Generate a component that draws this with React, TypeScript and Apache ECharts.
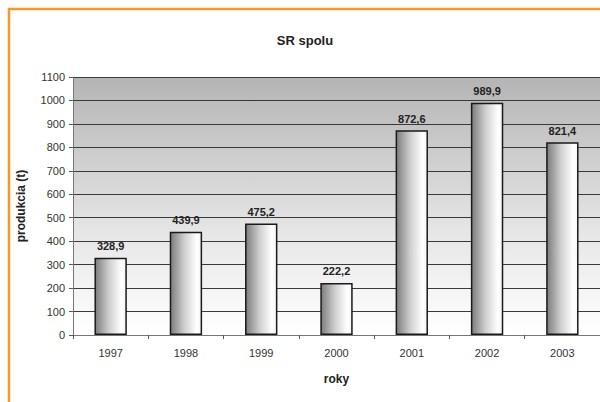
import React, { useEffect, useRef } from "react";
import * as echarts from "echarts";

const categories = ["1997", "1998", "1999", "2000", "2001", "2002", "2003"];
const values = [328.9, 439.9, 475.2, 222.2, 872.6, 989.9, 821.4];
const titleText = "SR spolu";
const yName = "produkcia (t)";
const xName = "roky";

export default function App() {
  const ref = useRef<HTMLDivElement>(null);
  useEffect(() => {
    if (!ref.current) return;
    const chart = echarts.init(ref.current, null, { renderer: "svg" });
    const font = "Arial, 'Liberation Sans', sans-serif";
    chart.setOption({
      animation: false,
      backgroundColor: "#ffffff",
      title: {
        text: titleText,
        left: 300,
        textAlign: "center",
        top: 29,
        textStyle: { fontSize: 13, fontWeight: "bold", color: "#222", fontFamily: font },
      },
      graphic: [
        { type: "line", shape: { x1: 8, y1: 9, x2: 600, y2: 9 }, style: { stroke: "#f5962e", lineWidth: 2.5 } },
        { type: "line", shape: { x1: 9, y1: 8, x2: 9, y2: 402 }, style: { stroke: "#f5962e", lineWidth: 2.5 } },
      ],
      grid: {
        left: 73,
        top: 77,
        width: 530,
        height: 258,
        show: true,
        borderWidth: 0,
        backgroundColor: new echarts.graphic.LinearGradient(0, 0, 0, 1, [
          { offset: 0, color: "#b4b4b4" },
          { offset: 0.6, color: "#e6e6e6" },
          { offset: 1, color: "#ffffff" },
        ]),
      },
      xAxis: {
        type: "category",
        data: categories,
        name: xName,
        nameLocation: "middle",
        nameGap: 38,
        nameTextStyle: { fontSize: 12, fontWeight: "bold", color: "#222", fontFamily: font },
        axisLine: { lineStyle: { color: "#777", width: 1 } },
        axisTick: { show: true, length: 4, lineStyle: { color: "#555" } },
        axisLabel: { fontSize: 11, color: "#333", margin: 12, fontFamily: font },
      },
      yAxis: {
        type: "value",
        min: 0,
        max: 1100,
        interval: 100,
        name: yName,
        nameLocation: "middle",
        nameGap: 46,
        nameRotate: 90,
        nameTextStyle: { fontSize: 12, fontWeight: "bold", color: "#222", fontFamily: font },
        axisLine: { show: true, lineStyle: { color: "#777", width: 1 } },
        axisTick: { show: true, length: 4, lineStyle: { color: "#555" } },
        axisLabel: { fontSize: 11, color: "#333", margin: 8, fontFamily: font, formatter: (v: number) => String(v) },
        splitLine: { show: true, lineStyle: { color: "#3a3a3a", width: 1 } },
      },
      series: [
        {
          type: "bar",
          data: values,
          barWidth: "43%",
          itemStyle: {
            color: new echarts.graphic.LinearGradient(0, 0, 1, 0, [
              { offset: 0, color: "#7c7c7c" },
              { offset: 0.45, color: "#cfcfcf" },
              { offset: 0.85, color: "#ffffff" },
              { offset: 1, color: "#f4f4f4" },
            ]),
            borderColor: "#1a1a1a",
            borderWidth: 1.5,
          },
          label: {
            show: true,
            position: "top",
            distance: 6,
            fontSize: 11,
            fontWeight: "bold",
            color: "#222",
            fontFamily: font,
            formatter: (p: any) => String(p.value).replace(".", ","),
          },
        },
      ],
    });
    return () => chart.dispose();
  }, []);
  return (
    <div
      ref={ref}
      style={{ position: "fixed", left: 0, top: 0, width: 600, height: 402 }}
    />
  );
}
